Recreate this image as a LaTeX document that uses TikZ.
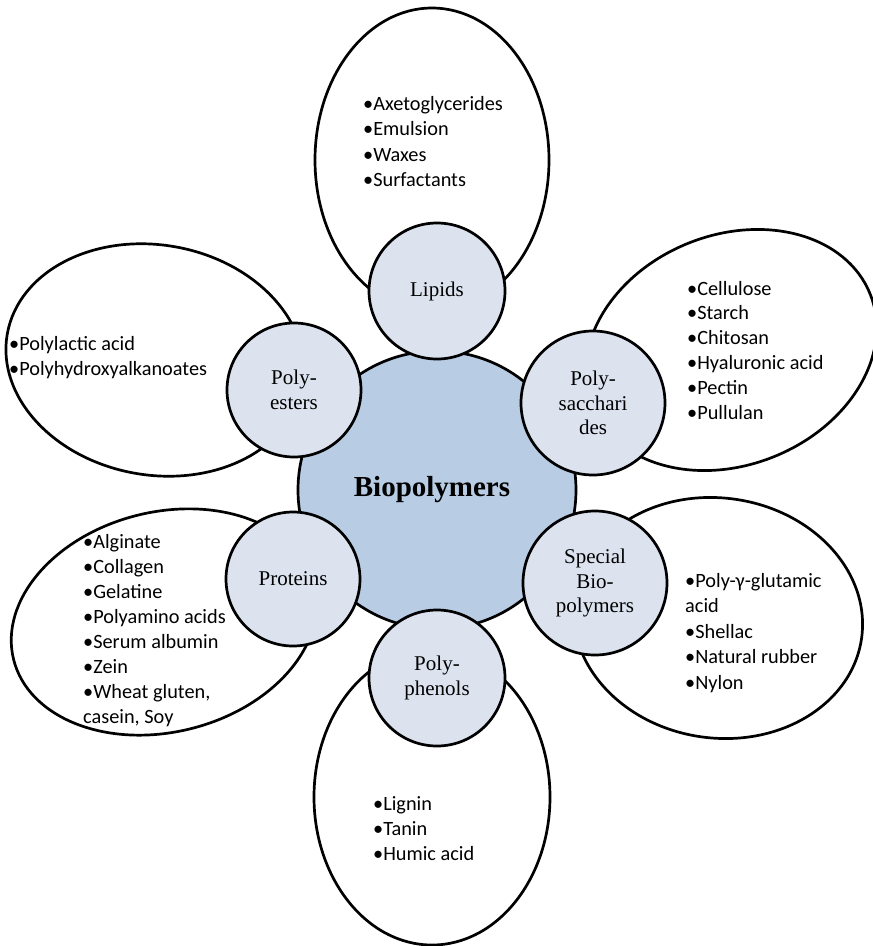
\documentclass[tikz,border=0pt]{standalone}
\usepackage{fontspec}
\setmainfont{Carlito}
\newfontfamily\catfont{Liberation Serif}
\usetikzlibrary{shapes.geometric}
\definecolor{hubfill}{HTML}{B8CCE4}
\definecolor{catfill}{HTML}{DCE3EF}
\begin{document}
\begin{tikzpicture}[x=1pt,y=-1pt,
  petal/.style={ellipse, draw=black, line width=2.7pt, fill=white, inner sep=0pt, outer sep=0pt},
  cat/.style={circle, draw=black, line width=2.7pt, fill=catfill, inner sep=0pt, align=center, font=\catfont\fontsize{21}{24.5}\selectfont},
  hub/.style={circle, draw=black, line width=2.7pt, fill=hubfill, inner sep=0pt, minimum size=278pt},
  hubtext/.style={inner sep=0pt, font=\catfont\bfseries\fontsize{29}{32}\selectfont},
  item/.style={anchor=base west, inner sep=0pt, font=\fontsize{20.3}{24}\selectfont}]
\useasboundingbox (0,0) rectangle (873,946);
\clip (0,0) rectangle (873,946);
% petals
\node[petal, minimum width=234pt, minimum height=304pt] (pLip) at (432,160) {};
\node[petal, minimum width=300pt, minimum height=230pt, rotate=-10] (pEst) at (155,360) {};
\node[petal, minimum width=300pt, minimum height=230pt, rotate=22] (pSac) at (731,350) {};
\node[petal, minimum width=310pt, minimum height=220pt, rotate=14] (pPro) at (164,622) {};
\node[petal, minimum width=290pt, minimum height=240pt, rotate=-8] (pSpe) at (718,618) {};
\node[petal, minimum width=236pt, minimum height=296pt] (pPhe) at (432,797) {};
% hub
\node[hub] (hub) at (437,490) {};
\node[hubtext] (hubT) at (432,490) {Biopolymers};
% categories
\node[cat, minimum size=136pt] (lip) at (437,291) {Lipids};
\node[cat, minimum size=134pt] (est) at (294,390) {Poly-\\esters};
\node[cat, minimum size=144pt] (sac) at (593,403) {Poly-\\sacchari\\des};
\node[cat, minimum size=134pt] (pro) at (293,579) {Proteins};
\node[cat, minimum size=144pt] (spe) at (595,583) {Special\\Bio-\\polymers};
\node[cat, minimum size=136pt] (phe) at (437,678) {Poly-\\phenols};
% lists
\foreach \t [count=\i from 0] in {•Axetoglycerides,•Emulsion,•Waxes,•Surfactants}
  \node[item] (lipT\i) at (363,{110+25.5*\i}) {\t};
\foreach \t [count=\i from 0] in {•Polylactic acid,•Polyhydroxyalkanoates}
  \node[item] (estT\i) at (9,{350+25*\i}) {\t};
\foreach \t [count=\i from 0] in {•Cellulose,•Starch,•Chitosan,•Hyaluronic acid,•Pectin,•Pullulan}
  \node[item] (sacT\i) at (687,{295+24.8*\i}) {\t};
\foreach \t [count=\i from 0] in {•Alginate,•Collagen,•Gelatine,•Polyamino acids,•Serum albumin,•Zein,{•Wheat gluten,},{casein, Soy}}
  \node[item] (proT\i) at (83,{548+25*\i}) {\t};
\foreach \t [count=\i from 0] in {•Poly-γ-glutamic,acid,•Shellac,•Natural rubber,•Nylon}
  \node[item] (speT\i) at (685,{587+25.5*\i}) {\t};
\foreach \t [count=\i from 0] in {•Lignin,•Tanin,•Humic acid}
  \node[item] (pheT\i) at (373,{810+25*\i}) {\t};
\end{tikzpicture}
\end{document}
